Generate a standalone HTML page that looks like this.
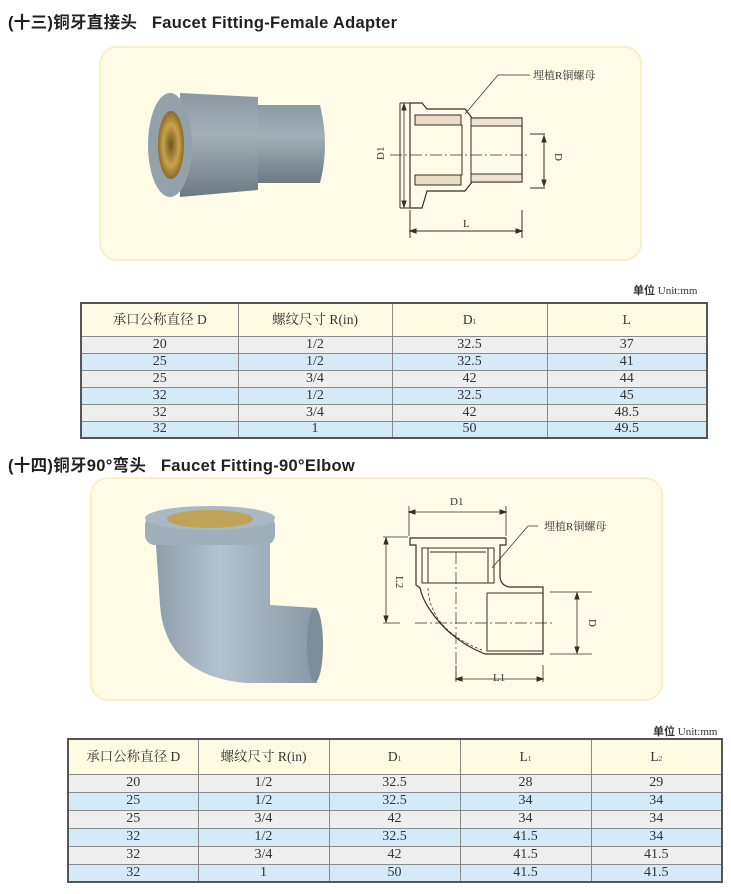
<!DOCTYPE html>
<html><head><meta charset="utf-8">
<style>
*{margin:0;padding:0;box-sizing:border-box}
body{width:731px;height:894px;background:#fff;position:relative;overflow:hidden;font-family:"Liberation Serif","Noto Serif CJK SC",serif;color:#333}
.h{position:absolute;font-family:"Liberation Sans","Noto Sans CJK SC",sans-serif;font-weight:bold;font-size:16.5px;letter-spacing:.3px;color:#231f20;white-space:pre}
.panel{position:absolute;background:#fefbe6;border:2px solid #fbefc8;border-radius:18px}
.unit{position:absolute;font-size:11px;color:#333;white-space:nowrap}
.unit b{font-family:"Liberation Sans","Noto Sans CJK SC",sans-serif;font-weight:bold}
table{position:absolute;border-collapse:collapse;border:2px solid #555;font-size:14px;text-align:center}
td{border:1px solid #8a8a8a;padding:0;line-height:1}
tr.hd td{background:#fefbe3;font-size:13.5px}
tr.g td{background:#eeeeee}
tr.b td{background:#d4eaf7}
sub{font-size:7px;vertical-align:baseline}
svg{position:absolute}
</style></head><body>

<div class="h" style="left:8px;top:9px">(十三)铜牙直接头   Faucet Fitting-Female Adapter</div>
<div class="panel" style="left:99px;top:46px;width:543px;height:215px"></div>

<!-- photo 1 -->
<svg style="left:140px;top:85px" width="200" height="120" viewBox="0 0 200 120">
<defs><linearGradient id="gg" x1="0" y1="0" x2="0" y2="1"><stop offset="0" stop-color="#8a98a2"/><stop offset=".4" stop-color="#a3b0b8"/><stop offset="1" stop-color="#6c7982"/></linearGradient>
<radialGradient id="br" cx=".5" cy=".5" r=".5"><stop offset="0" stop-color="#6b5420"/><stop offset=".6" stop-color="#c9a24c"/><stop offset="1" stop-color="#8a6a28"/></radialGradient></defs>
<path d="M110 20 L180 20 Q190 60 180 98 L110 98 Z" fill="url(#gg)"/>
<path d="M40 8 L118 12 L118 105 L40 112 Z" fill="url(#gg)"/>
<ellipse cx="30" cy="60" rx="22" ry="52" fill="#93a1aa"/>
<ellipse cx="31" cy="60" rx="13" ry="34" fill="url(#br)"/>
</svg>

<!-- drawing 1 -->
<svg style="left:370px;top:60px" width="260" height="190" viewBox="0 0 260 190" font-family="Liberation Serif,Noto Serif CJK SC,serif" font-size="11" fill="none" stroke="#3a2e25" stroke-width="1">
<path d="M40 43 L30 43 M30 43 L30 148 M40 148 L30 148 M160 74 L175 74 M160 128 L175 128"/>
<path d="M34 46 L34 145" stroke-width=".8"/>
<path d="M34 44 l-2 6 h4z M34 147 l-2 -6 h4z M174 76 l-2 6 h4z M174 126 l-2 -6 h4z M40 171 l6 -2 v4z M152 171 l-6 -2 v4z" fill="#3a2e25"/>
<path d="M174 76 L174 126"/>
<path d="M40 150 L40 178 M152 150 L152 178 M40 171 L152 171"/>
<path d="M40 43 L52 43 L57 49 L95 49 L102 58 L152 58 L152 122 L102 122 L95 131 L57 131 L52 148 L40 148 Z" stroke-width="1.2"/>
<path d="M45 55 L85 55 M45 65 L92 65 L92 115 L45 115 M45 125 L85 125 M101 66 L101 115 M101 66 L152 66 M101 114 L152 114" />
<rect x="45" y="55" width="46" height="10" fill="#e9dcc4" stroke="#3a2e25"/>
<rect x="45" y="115" width="46" height="10" fill="#e9dcc4" stroke="#3a2e25"/>
<rect x="101" y="58" width="51" height="8" fill="#efe4cf"/>
<rect x="101" y="114" width="51" height="8" fill="#efe4cf"/>
<path d="M20 95 L160 95" stroke-dasharray="12 3 2 3" stroke-width=".8"/>
<path d="M95 54 L128 15 L160 15" stroke-width=".7"/>
<text x="163" y="19" fill="#333" stroke="none">埋植R铜螺母</text>
<text x="6" y="100" fill="#333" stroke="none" transform="rotate(-90 10 96)">D1</text>
<text x="180" y="98" fill="#333" stroke="none" transform="rotate(90 185 98)">D</text>
<text x="93" y="167" fill="#333" stroke="none">L</text>
</svg>

<div class="unit" style="left:633px;top:282px"><b>单位</b> Unit:mm</div>
<table style="left:80px;top:302px;width:628px">
<colgroup><col style="width:157px"><col style="width:154px"><col style="width:155px"><col></colgroup>
<tr class="hd" style="height:33px"><td>承口公称直径 D</td><td>螺纹尺寸 R(in)</td><td>D<sub>1</sub></td><td>L</td></tr>
<tr class="g" style="height:17px"><td>20</td><td>1/2</td><td>32.5</td><td>37</td></tr>
<tr class="b" style="height:17px"><td>25</td><td>1/2</td><td>32.5</td><td>41</td></tr>
<tr class="g" style="height:17px"><td>25</td><td>3/4</td><td>42</td><td>44</td></tr>
<tr class="b" style="height:17px"><td>32</td><td>1/2</td><td>32.5</td><td>45</td></tr>
<tr class="g" style="height:17px"><td>32</td><td>3/4</td><td>42</td><td>48.5</td></tr>
<tr class="b" style="height:17px"><td>32</td><td>1</td><td>50</td><td>49.5</td></tr>
</table>

<div class="h" style="left:8px;top:452px">(十四)铜牙90°弯头   Faucet Fitting-90°Elbow</div>
<div class="panel" style="left:90px;top:477px;width:573px;height:224px"></div>

<!-- photo 2 -->
<svg style="left:135px;top:505px" width="190" height="190" viewBox="0 0 190 190">
<defs><linearGradient id="g2" x1="0" y1="0" x2="1" y2="0"><stop offset="0" stop-color="#8d9dab"/><stop offset=".4" stop-color="#b3c2cf"/><stop offset="1" stop-color="#8898a6"/></linearGradient></defs>
<path d="M20 25 L135 25 L135 100 L182 103 L182 178 L110 178 Q30 170 25 100 Z" fill="url(#g2)"/>
<ellipse cx="180" cy="140" rx="8" ry="37" fill="#7d8d9a"/>
<rect x="10" y="10" width="130" height="30" rx="10" fill="#9fb0bd"/>
<ellipse cx="75" cy="13" rx="65" ry="12" fill="#a9b8c4"/>
<ellipse cx="75" cy="14" rx="43" ry="9" fill="#c0a357"/>
</svg>

<!-- drawing 2 -->
<svg style="left:370px;top:480px" width="280" height="210" viewBox="0 0 280 210" font-family="Liberation Serif,Noto Serif CJK SC,serif" font-size="11" fill="none" stroke="#3a2e25" stroke-width="1">
<path d="M39 26 L39 56 M136 26 L136 56 M39 32 L136 32 M13 57 L38 57 M13 143 L30 143 M16 58 L16 142 M180 112 L222 112 M180 174 L222 174 M207 113 L207 173 M86 185 L86 202 M173 185 L173 202 M86 199 L173 199" stroke-width=".8"/>
<path d="M39 32 l6 -2 v4z M136 32 l-6 -2 v4z M16 58 l-2 6 h4z M16 142 l-2 -6 h4z M207 113 l-2 6 h4z M207 173 l-2 -6 h4z M86 199 l6 -2 v4z M173 199 l-6 -2 v4z" fill="#3a2e25"/>
<path d="M40 58 L136 58 L136 65 L130 65 L130 95 Q130 106 140 107 L173 107 L173 174 L115 174 Q80 160 60 130 Q52 118 50 108 L46 105 L46 65 L40 65 Z" stroke-width="1.2"/>
<path d="M52 68 L124 68 L124 103 L52 103 Z M58 68 L58 103 M118 68 L118 103 M60 72 L116 72 M117 113 L173 113 M117 113 L117 171 L173 171"/>
<path d="M58 108 Q60 150 112 170" stroke-dasharray="3 2" stroke-width=".7"/>
<path d="M86 72 L86 200 M45 143 L182 143" stroke-dasharray="12 3 2 3" stroke-width=".7"/>
<path d="M122 88 L158 46 L168 46" stroke-width=".7"/>
<text x="174" y="50" fill="#333" stroke="none">埋植R铜螺母</text>
<text x="80" y="25" fill="#333" stroke="none">D1</text>
<text x="123" y="201" fill="#333" stroke="none">L1</text>
<text x="22" y="100" fill="#333" stroke="none" transform="rotate(90 26 100)">L2</text>
<text x="212" y="140" fill="#333" stroke="none" transform="rotate(90 216 143)">D</text>
</svg>

<div class="unit" style="left:653px;top:723px"><b>单位</b> Unit:mm</div>
<table style="left:67px;top:738px;width:656px">
<colgroup><col style="width:130px"><col style="width:131px"><col style="width:131px"><col style="width:131px"><col></colgroup>
<tr class="hd" style="height:35px"><td>承口公称直径 D</td><td>螺纹尺寸 R(in)</td><td>D<sub>1</sub></td><td>L<sub>1</sub></td><td>L<sub>2</sub></td></tr>
<tr class="g" style="height:18px"><td>20</td><td>1/2</td><td>32.5</td><td>28</td><td>29</td></tr>
<tr class="b" style="height:18px"><td>25</td><td>1/2</td><td>32.5</td><td>34</td><td>34</td></tr>
<tr class="g" style="height:18px"><td>25</td><td>3/4</td><td>42</td><td>34</td><td>34</td></tr>
<tr class="b" style="height:18px"><td>32</td><td>1/2</td><td>32.5</td><td>41.5</td><td>34</td></tr>
<tr class="g" style="height:18px"><td>32</td><td>3/4</td><td>42</td><td>41.5</td><td>41.5</td></tr>
<tr class="b" style="height:18px"><td>32</td><td>1</td><td>50</td><td>41.5</td><td>41.5</td></tr>
</table>
</body></html>
